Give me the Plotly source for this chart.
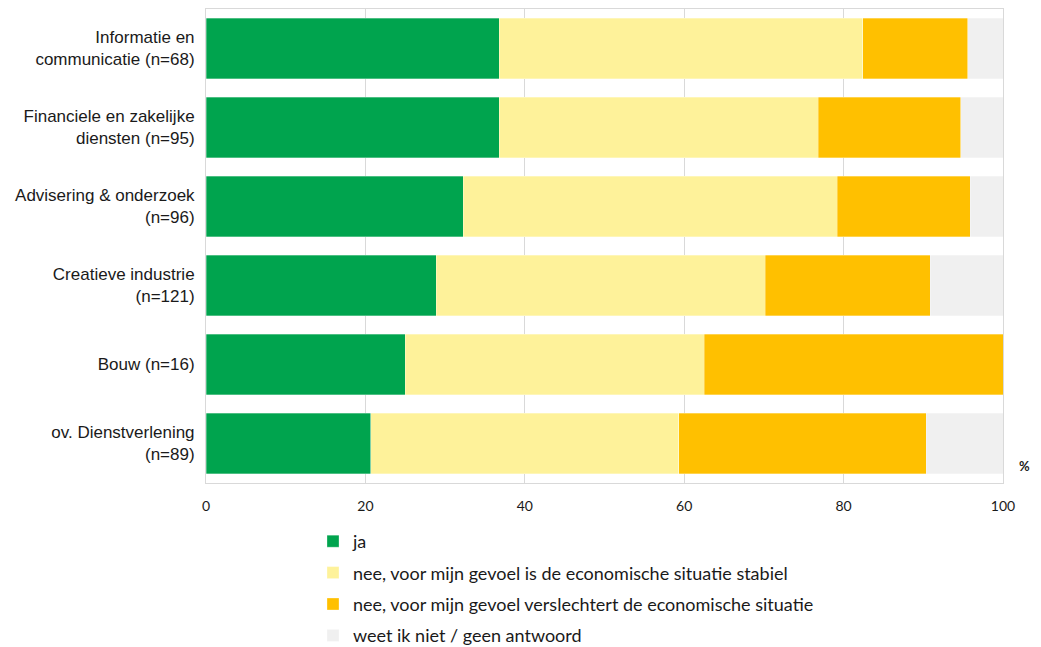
import plotly.graph_objects as go

categories = [
    "Informatie en<br>communicatie (n=68)",
    "Financiele en zakelijke<br>diensten (n=95)",
    "Advisering & onderzoek<br>(n=96)",
    "Creatieve industrie<br>(n=121)",
    "Bouw (n=16)",
    "ov. Dienstverlening<br>(n=89)",
]
ja = [36.8, 36.8, 32.3, 28.9, 25.0, 20.7]
stabiel = [45.6, 40.0, 46.9, 41.3, 37.5, 38.6]
verslechtert = [13.2, 17.9, 16.7, 20.7, 37.5, 31.1]
weet_niet = [4.4, 5.3, 4.1, 9.1, 0.0, 9.6]

series_names = [
    "ja",
    "nee, voor mijn gevoel is de economische situatie stabiel",
    "nee, voor mijn gevoel verslechtert de economische situatie",
    "weet ik niet / geen antwoord",
]
series_values = [ja, stabiel, verslechtert, weet_niet]
colors = ["#00A44E", "#FEF29A", "#FFC000", "#F0F0F0"]

x_ticks = [0, 20, 40, 60, 80, 100]

fig = go.Figure()
for i, (name, vals, col) in enumerate(zip(series_names, series_values, colors)):
    fig.add_trace(go.Bar(
        y=categories, x=vals, name=name, orientation="h",
        marker=dict(color=col, line=dict(color="rgba(255,255,255,0.6)", width=0.5)),
        legendgroup=f"g{i}",
    ))

fig.update_layout(
    width=1041, height=647,
    barmode="stack", bargap=0.23,
    paper_bgcolor="white", plot_bgcolor="white",
    margin=dict(l=206, r=38, t=9, b=164, autoexpand=False),
    font=dict(family="Liberation Sans, Arial, sans-serif", size=17, color="#1a1a1a"),
    xaxis=dict(
        range=[0, 100], tickvals=x_ticks, showgrid=True, gridcolor="#d9d9d9", gridwidth=1,
        showline=True, linecolor="#d9d9d9", mirror=True, zeroline=False,
        tickfont=dict(family="Lato, sans-serif", size=14, color="#1a1a1a"),
        ticks="outside", ticklen=10, tickcolor="rgba(0,0,0,0)",
        fixedrange=True,
    ),
    yaxis=dict(
        autorange="reversed", showline=True, linecolor="#d9d9d9", mirror=True,
        ticks="outside", ticklen=7, tickcolor="rgba(0,0,0,0)",
        tickfont=dict(family="Liberation Sans, Arial, sans-serif", size=17, color="#1a1a1a"),
    ),
    legend=dict(
        orientation="v", x=(313 - 206) / 797, xanchor="left",
        y=(483 - 523) / 474, yanchor="top",
        traceorder="grouped", tracegroupgap=5,
        font=dict(family="Lato, sans-serif", size=18, color="#1a1a1a"),
        itemwidth=30, bgcolor="rgba(0,0,0,0)",
    ),
    annotations=[dict(
        text="<b>%</b>", x=1.0, y=0, xref="paper", yref="paper",
        xanchor="left", yanchor="bottom", xshift=14, yshift=7, showarrow=False,
        font=dict(family="Lato, sans-serif", size=13, color="#1a1a1a"),
    )],
)

fig.write_html(
    "out.html",
    config={"displayModeBar": False},
    post_script="document.body.style.margin='0';document.body.style.padding='0';",
)
